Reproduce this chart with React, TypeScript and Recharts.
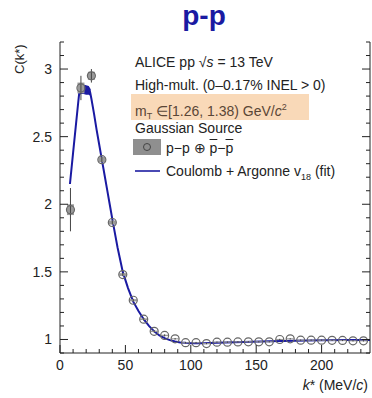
import {
  Area,
  ComposedChart,
  ErrorBar,
  Line,
  Scatter,
  XAxis,
  YAxis,
} from "recharts";

const FONT = "'Liberation Sans', Arial, Helvetica, sans-serif";
const BLUE = "#1a1aa2";
const INK = "#222";

// measured points: k* (MeV/c), C(k*), stat and syst errors
const kStar = [8, 16, 24, 32, 40, 48, 56, 64, 72, 80, 88, 96, 104, 112, 120, 128, 136, 144, 152, 160, 168, 176, 184, 192, 200, 208, 216, 224, 232];
const cVal = [1.96, 2.86, 2.95, 2.33, 1.865, 1.48, 1.29, 1.15, 1.06, 1.03, 1.005, 0.976, 0.976, 0.97, 0.98, 0.98, 0.982, 0.983, 0.983, 0.983, 1.0, 1.005, 0.995, 0.995, 0.995, 0.994, 0.993, 0.99, 0.99];
const statErr = [0.16, 0.09, 0.05, 0.02, 0.015, 0.012, 0.01, 0.01, 0.008, 0.008, 0.006, 0.006, 0.006, 0.005, 0.005, 0.005, 0.005, 0.005, 0.005, 0.005, 0.005, 0.005, 0.005, 0.005, 0.005, 0.005, 0.005, 0.005, 0.005];
const systErr = [0.04, 0.04, 0.03, 0.02, 0.015, 0.01, 0.008, 0.006, 0.005, 0.005, 0.004, 0.004, 0.004, 0.004, 0.004, 0.004, 0.004, 0.004, 0.004, 0.004, 0.004, 0.004, 0.004, 0.004, 0.004, 0.004, 0.004, 0.004, 0.004];

// Coulomb + Argonne v18 fit
const fitK = [7.6, 10, 12, 14, 15, 16, 18, 20, 22, 23, 24, 26, 28, 30, 32, 34, 36, 38, 40, 44, 48, 52, 56, 60, 64, 68, 72, 76, 80, 84, 88, 92, 96, 100, 110, 120, 140, 160, 180, 200, 220, 237];
const fitC = [2.15, 2.38, 2.57, 2.76, 2.85, 2.85, 2.85, 2.845, 2.84, 2.83, 2.78, 2.67, 2.55, 2.44, 2.33, 2.22, 2.11, 2.0, 1.89, 1.68, 1.5, 1.38, 1.28, 1.21, 1.15, 1.1, 1.06, 1.03, 1.01, 0.995, 0.985, 0.978, 0.975, 0.973, 0.973, 0.976, 0.982, 0.987, 0.991, 0.994, 0.996, 0.997];

// fit uncertainty band around the peak
const bandK = [14.5, 16, 18, 20, 22, 23.5];
const bandLo = [2.8, 2.815, 2.815, 2.81, 2.81, 2.8];
const bandHi = [2.88, 2.885, 2.885, 2.88, 2.875, 2.85];

const xMajor = [0, 50, 100, 150, 200];
const xTicks = Array.from({ length: 24 }, (_, i) => i * 10);
const yMajor = [1, 1.5, 2, 2.5, 3];
const yTicks = Array.from({ length: 24 }, (_, i) => Math.round((0.9 + i * 0.1) * 10) / 10);

const points = kStar.map((k, i) => ({ k, c: cVal[i], stat: statErr[i], syst: systErr[i] }));
const fit = fitK.map((k, i) => ({ k, c: fitC[i] }));
const band = bandK.map((k, i) => ({ k, r: [bandLo[i], bandHi[i]] }));

function XTick({ x, y, payload, top }: any) {
  const major = xMajor.includes(payload.value);
  const len = major ? 8 : 4;
  return (
    <g>
      <line x1={x} x2={x} y1={y} y2={top ? y + len : y - len} stroke={INK} />
      {!top && major && (
        <text x={x} y={y + 17} textAnchor="middle" fontSize={14} fill={INK} fontFamily={FONT}>
          {payload.value}
        </text>
      )}
    </g>
  );
}

function YTick({ x, y, payload, right }: any) {
  const major = yMajor.includes(payload.value);
  const len = major ? 8 : 4;
  return (
    <g>
      <line x1={x} x2={right ? x - len : x + len} y1={y} y2={y} stroke={INK} />
      {!right && major && (
        <text x={x - 8} y={y + 5} textAnchor="end" fontSize={14} fill={INK} fontFamily={FONT}>
          {payload.value}
        </text>
      )}
    </g>
  );
}

function Marker({ cx, cy }: any) {
  return <circle cx={cx} cy={cy} r={4} fill="none" stroke="#666" strokeWidth={1.2} />;
}

const txt = { position: "absolute" as const, fontFamily: FONT, fontSize: 14, color: INK, whiteSpace: "nowrap" as const, lineHeight: "16px" };
const bar = { textDecoration: "overline" };

export default function App() {
  return (
    <div style={{ position: "relative", width: 372, height: 398, background: "#fff" }}>
      <style>{"body{margin:0}"}</style>
      <ComposedChart width={372} height={398} margin={{ top: 42, right: 0, bottom: 0, left: 0 }}>
        <XAxis
          xAxisId="b"
          type="number"
          dataKey="k"
          domain={[0, 237]}
          ticks={xTicks}
          interval={0}
          allowDataOverflow
          tickSize={0}
          tickMargin={0}
          tick={<XTick />}
          axisLine={{ stroke: INK }}
          height={45}
        />
        <XAxis
          xAxisId="t"
          orientation="top"
          type="number"
          dataKey="k"
          domain={[0, 237]}
          ticks={xTicks}
          interval={0}
          allowDataOverflow
          tickSize={0}
          tickMargin={0}
          tick={<XTick top />}
          axisLine={{ stroke: INK }}
          height={0}
        />
        <YAxis
          yAxisId="l"
          type="number"
          domain={[0.9, 3.2]}
          ticks={yTicks}
          interval={0}
          allowDataOverflow
          tickSize={0}
          tickMargin={0}
          tick={<YTick />}
          axisLine={{ stroke: INK }}
          width={60}
        />
        <YAxis
          yAxisId="r"
          orientation="right"
          type="number"
          domain={[0.9, 3.2]}
          ticks={yTicks}
          interval={0}
          allowDataOverflow
          tickSize={0}
          tickMargin={0}
          tick={<YTick right />}
          axisLine={{ stroke: INK }}
          width={2}
        />
        <Area
          xAxisId="b"
          yAxisId="l"
          data={band}
          dataKey="r"
          type="linear"
          stroke="none"
          fill={BLUE}
          fillOpacity={1}
          isAnimationActive={false}
        />
        <Line
          xAxisId="b"
          yAxisId="l"
          data={fit}
          dataKey="c"
          type="linear"
          stroke={BLUE}
          strokeWidth={2}
          dot={false}
          isAnimationActive={false}
        />
        <Scatter
          xAxisId="b"
          yAxisId="l"
          data={points}
          dataKey="c"
          shape={<Marker />}
          isAnimationActive={false}
        >
          <ErrorBar dataKey="syst" direction="y" width={0} stroke="#9a9a9a" strokeWidth={7} isAnimationActive={false} />
          <ErrorBar dataKey="stat" direction="y" width={0} stroke="#444" strokeWidth={1} isAnimationActive={false} />
        </Scatter>
      </ComposedChart>

      <div style={{ position: "absolute", left: 0, width: 408, top: 0, lineHeight: "32px", textAlign: "center", fontFamily: FONT, fontWeight: 700, fontSize: 28, color: BLUE }}>
        p-p
      </div>

      <div style={{ ...txt, fontSize: 13, left: 12, top: 74, transform: "rotate(-90deg)", transformOrigin: "left top" }}>
        C(k*)
      </div>

      <div style={{ ...txt, right: 4, top: 377 }}>
        <i>k</i>* (MeV/<i>c</i>)
      </div>

      <div style={{ ...txt, left: 135, top: 54 }}>
        ALICE pp √<i>s</i> = 13 TeV
      </div>
      <div style={{ ...txt, left: 135, top: 77 }}>High-mult. (0–0.17% INEL &gt; 0)</div>
      <div style={{ position: "absolute", left: 131, top: 94, width: 178, height: 26, background: "#f9d9b8" }} />
      <div style={{ ...txt, left: 135, top: 99, color: "#5a4636" }}>
        m<sub style={{ fontSize: 9 }}>T</sub> ∈[1.26, 1.38) GeV/<i>c</i>
        <sup style={{ fontSize: 9 }}>2</sup>
      </div>
      <div style={{ ...txt, left: 135, top: 120 }}>Gaussian Source</div>
      <div style={{ position: "absolute", left: 133, top: 139, width: 28, height: 16, background: "#8f8f8f" }}>
        <div style={{ position: "absolute", left: 10, top: 4, width: 6, height: 6, borderRadius: 4, border: "1px solid #444" }} />
      </div>
      <div style={{ ...txt, left: 166, top: 140 }}>
        p−p ⊕ <span style={bar}>p</span>−<span style={bar}>p</span>
      </div>
      <div style={{ position: "absolute", left: 135, top: 170, width: 25, height: 1.5, background: "#4a4ab4" }} />
      <div style={{ ...txt, left: 166, top: 163 }}>
        Coulomb + Argonne v<sub style={{ fontSize: 9 }}>18</sub> (fit)
      </div>
    </div>
  );
}
